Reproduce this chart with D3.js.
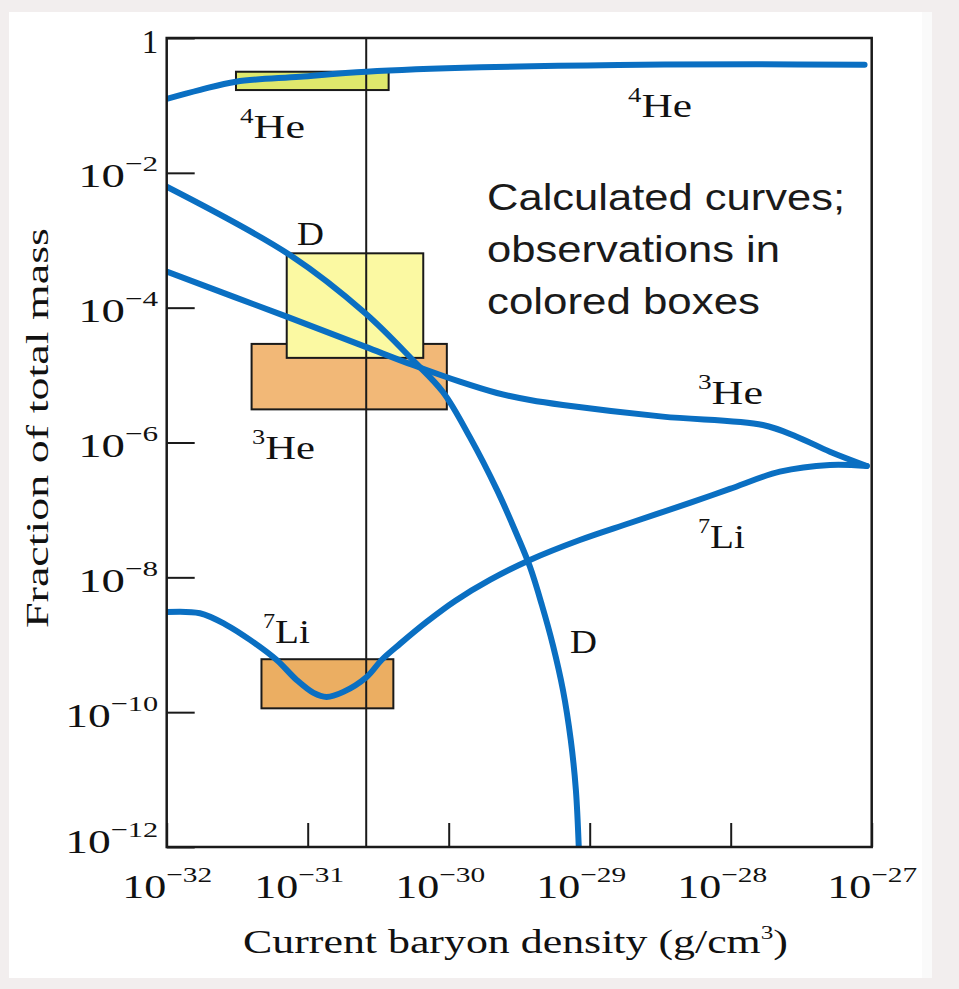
<!DOCTYPE html>
<html>
<head>
<meta charset="utf-8">
<script src="https://cdn.jsdelivr.net/npm/d3@7"></script>
<style>
  html, body { margin: 0; padding: 0; background: #f2eeee; }
  svg { display: block; }
</style>
</head>
<body>
<svg id="chart" width="959" height="989"></svg>
<script>
// ---- axis ticks ----
const xTickValues = [1e-32, 1e-31, 1e-30, 1e-29, 1e-28, 1e-27];
const xTickExponents = ["−32", "−31", "−30", "−29", "−28", "−27"];
const yTickValues = [1, 1e-2, 1e-4, 1e-6, 1e-8, 1e-10, 1e-12];
const yTickExponents = ["", "−2", "−4", "−6", "−8", "−10", "−12"];

// ---- calculated abundance curves (density in g/cm^3, mass fraction) ----
const he4Density  = [1e-32, 1.73e-32, 3.1e-32, 8.8e-32, 2.6e-31, 1.7e-30, 1.6e-29, 1.5e-28, 8.9e-28];
const he4Fraction = [0.125, 0.17, 0.225, 0.267, 0.316, 0.367, 0.398, 0.407, 0.40];

const dDensity  = [1e-32, 7.48e-32, 2.55e-31, 5.57e-31, 9.1e-31, 1.41e-30, 2.2e-30, 3.05e-30,
                   3.77e-30, 4.58e-30, 5.48e-30, 6.46e-30, 7.34e-30, 7.98e-30, 8.38e-30];
const dFraction = [6.22e-3, 6.04e-4, 8.34e-5, 1.67e-5, 5.61e-6, 1.21e-6, 1.98e-7, 4.25e-8,
                   1.43e-8, 3.89e-9, 9.93e-10, 2.13e-10, 3.87e-11, 7.02e-12, 9.0e-13];

const he3Density  = [1e-32, 7.1e-32, 2.55e-31, 5.57e-31, 1.2e-30, 2.2e-30, 3.77e-30, 6.46e-30,
                     3.3e-29, 1.69e-28, 2.94e-28, 5.05e-28, 9.23e-28];
const he3Fraction = [3.42e-4, 7.35e-5, 2.64e-5, 1.41e-5, 7.98e-6, 5.42e-6, 4.27e-6, 3.6e-6,
                     2.42e-6, 1.82e-6, 1.22e-6, 7.31e-7, 4.49e-7];

const li7Density  = [1e-32, 1.72e-32, 2.66e-32, 3.9e-32, 6.03e-32, 8.35e-32, 1.1e-31, 1.36e-31,
                     1.79e-31, 2.62e-31, 3.34e-31, 4.51e-31, 6.97e-31, 1.11e-30, 1.96e-30, 3.77e-30,
                     8.51e-30, 1.93e-29, 5.13e-29, 9.86e-29, 2.23e-28, 5.05e-28, 9.23e-28];
const li7Fraction = [3.06e-9, 2.93e-9, 1.96e-9, 1.18e-9, 5.94e-10, 3.0e-10, 1.93e-10, 1.68e-10,
                     2.0e-10, 3.33e-10, 5.94e-10, 1.03e-9, 2.18e-9, 4.46e-9, 9.14e-9, 1.81e-8,
                     3.58e-8, 6.4e-8, 1.27e-7, 2.05e-7, 3.69e-7, 4.65e-7, 4.49e-7];

// ---- observed ranges (drawn as boxes, in drawing order) ----
const boxNames    = ["4He", "3He", "D", "7Li"];
const boxDensityLow  = [3.1e-32, 4.0e-32, 7.1e-32, 4.7e-32];
const boxDensityHigh = [3.75e-31, 9.7e-31, 6.6e-31, 4.05e-31];
const boxFractionLow  = [0.169, 3.1e-6, 1.8e-5, 1.14e-10];
const boxFractionHigh = [0.316, 2.9e-5, 6.4e-4, 6.1e-10];
const boxColors = ["#dfe86c", "#f2b877", "#fbf9a2", "#ebae62"];

// present-day baryon density marker
const markedDensity = 2.6e-31;

// ---- layout ----
const plot = { left: 166.7, right: 871.7, top: 38, bottom: 847 };
const serif = "'Liberation Serif', 'Times New Roman', serif";
const sans = "'Liberation Sans', Arial, sans-serif";
const curveBlue = "#0a6fc2";

const svg = d3.select("#chart");

// page background: light border with a white sheet
svg.append("rect").attr("x", 0).attr("y", 0).attr("width", 959).attr("height", 989).attr("fill", "#f2eeee");
svg.append("rect").attr("x", 921).attr("y", 12).attr("width", 11).attr("height", 966).attr("fill", "#fafafa");
svg.append("rect").attr("x", 9).attr("y", 12).attr("width", 913).attr("height", 966).attr("fill", "#ffffff");

const x = d3.scaleLog().domain([1e-32, 1e-27]).range([plot.left, plot.right]);
const y = d3.scaleLog().domain([1e-12, 1]).range([plot.bottom, plot.top]);

svg.append("defs").append("clipPath").attr("id", "plotClip")
  .append("rect")
  .attr("x", plot.left).attr("y", plot.top)
  .attr("width", plot.right - plot.left).attr("height", plot.bottom - plot.top);

// observation boxes
svg.append("g").selectAll("rect").data(boxNames).join("rect")
  .attr("x", (d, i) => x(boxDensityLow[i]))
  .attr("y", (d, i) => y(boxFractionHigh[i]))
  .attr("width", (d, i) => x(boxDensityHigh[i]) - x(boxDensityLow[i]))
  .attr("height", (d, i) => y(boxFractionLow[i]) - y(boxFractionHigh[i]))
  .attr("fill", (d, i) => boxColors[i])
  .attr("stroke", "#1a1a1a")
  .attr("stroke-width", 2);

// vertical marker line
svg.append("line")
  .attr("x1", x(markedDensity)).attr("x2", x(markedDensity))
  .attr("y1", plot.top).attr("y2", plot.bottom)
  .attr("stroke", "#1a1a1a").attr("stroke-width", 2);

// calculated curves
const line = d3.line()
  .x(d => x(d[0]))
  .y(d => y(d[1]))
  .curve(d3.curveCatmullRom.alpha(0.5));

const curves = [
  d3.zip(he4Density, he4Fraction),
  d3.zip(dDensity, dFraction),
  d3.zip(he3Density, he3Fraction),
  d3.zip(li7Density, li7Fraction)
];

svg.append("g").attr("clip-path", "url(#plotClip)")
  .selectAll("path").data(curves).join("path")
  .attr("d", line)
  .attr("fill", "none")
  .attr("stroke", curveBlue)
  .attr("stroke-width", 6)
  .attr("stroke-linecap", "round")
  .attr("stroke-linejoin", "round");

// frame
svg.append("rect")
  .attr("x", plot.left).attr("y", plot.top)
  .attr("width", plot.right - plot.left).attr("height", plot.bottom - plot.top)
  .attr("fill", "none").attr("stroke", "#1a1a1a").attr("stroke-width", 2.5);

// x axis (inward ticks)
const gx = svg.append("g")
  .attr("transform", `translate(0,${plot.bottom})`)
  .call(d3.axisBottom(x).tickValues(xTickValues).tickSize(-24).tickFormat(() => ""));
gx.select(".domain").remove();
gx.selectAll(".tick line").attr("stroke", "#1a1a1a").attr("stroke-width", 2);
gx.selectAll(".tick text").remove();
gx.selectAll(".tick").each(function (d, i) {
  const shift = (i === 0 || i === xTickValues.length - 1) ? 0 : -9;
  const t = d3.select(this).append("text")
    .attr("x", shift).attr("y", 51)
    .attr("text-anchor", "middle")
    .attr("font-family", serif).attr("font-size", 33).attr("fill", "#111")
    .attr("textLength", 90).attr("lengthAdjust", "spacingAndGlyphs");
  t.append("tspan").text("10");
  t.append("tspan").attr("dy", -16).attr("font-size", 22).text(xTickExponents[i]);
});

// y axis (inward ticks)
const gy = svg.append("g")
  .attr("transform", `translate(${plot.left},0)`)
  .call(d3.axisLeft(y).tickValues(yTickValues).tickSize(-28).tickFormat(() => ""));
gy.select(".domain").remove();
gy.selectAll(".tick line").attr("stroke", "#1a1a1a").attr("stroke-width", 2);
gy.selectAll(".tick text").remove();
gy.selectAll(".tick").each(function (d, i) {
  const last = i === yTickValues.length - 1;
  const t = d3.select(this).append("text")
    .attr("x", -8.5).attr("y", last ? 5 : 14)
    .attr("text-anchor", "end")
    .attr("font-family", serif).attr("font-size", 33).attr("fill", "#111");
  if (yTickExponents[i] === "") {
    t.text("1");
  } else {
    t.attr("textLength", yTickExponents[i].length > 2 ? 93 : 80)
     .attr("lengthAdjust", "spacingAndGlyphs");
    t.append("tspan").text("10");
    t.append("tspan").attr("dy", -16).attr("font-size", 22).text(yTickExponents[i]);
  }
});

// axis titles
const xt = svg.append("text")
  .attr("x", 243).attr("y", 953)
  .attr("font-family", serif).attr("font-size", 33).attr("fill", "#111")
  .attr("textLength", 545).attr("lengthAdjust", "spacingAndGlyphs");
xt.append("tspan").text("Current baryon density (g/cm");
xt.append("tspan").attr("dy", -14).attr("font-size", 19).text("3");
xt.append("tspan").attr("dy", 14).text(")");

svg.append("text")
  .attr("transform", "translate(48,428) rotate(-90)")
  .attr("text-anchor", "middle")
  .attr("font-family", serif).attr("font-size", 31).attr("fill", "#111")
  .attr("textLength", 400).attr("lengthAdjust", "spacingAndGlyphs")
  .text("Fraction of total mass");

// curve / box labels: [x, baseline, superscript, name, width]
const nuclideLabels = [
  [240, 138, "4", "He", 65],
  [628, 117, "4", "He", 64],
  [297, 245, "", "D", 27],
  [252, 459, "3", "He", 63],
  [698, 404, "3", "He", 65],
  [698, 548, "7", "Li", 47],
  [263, 643, "7", "Li", 47],
  [570, 653, "", "D", 27]
];
nuclideLabels.forEach(([lx, ly, sup, name, w]) => {
  const t = svg.append("text")
    .attr("x", lx).attr("y", ly)
    .attr("font-family", serif).attr("font-size", 34).attr("fill", "#111")
    .attr("textLength", w).attr("lengthAdjust", "spacingAndGlyphs");
  if (sup) {
    t.append("tspan").attr("dy", -15).attr("font-size", 21).text(sup);
    t.append("tspan").attr("dy", 15).text(name);
  } else {
    t.text(name);
  }
});

// annotation
const noteLines = ["Calculated curves;", "observations in", "colored boxes"];
const noteWidths = [358, 293, 273];
svg.append("g").selectAll("text").data(noteLines).join("text")
  .attr("x", 487)
  .attr("y", (d, i) => 210 + i * 52)
  .attr("font-family", sans).attr("font-size", 37).attr("fill", "#1a1a1a")
  .attr("textLength", (d, i) => noteWidths[i]).attr("lengthAdjust", "spacingAndGlyphs")
  .text(d => d);
</script>
</body>
</html>
